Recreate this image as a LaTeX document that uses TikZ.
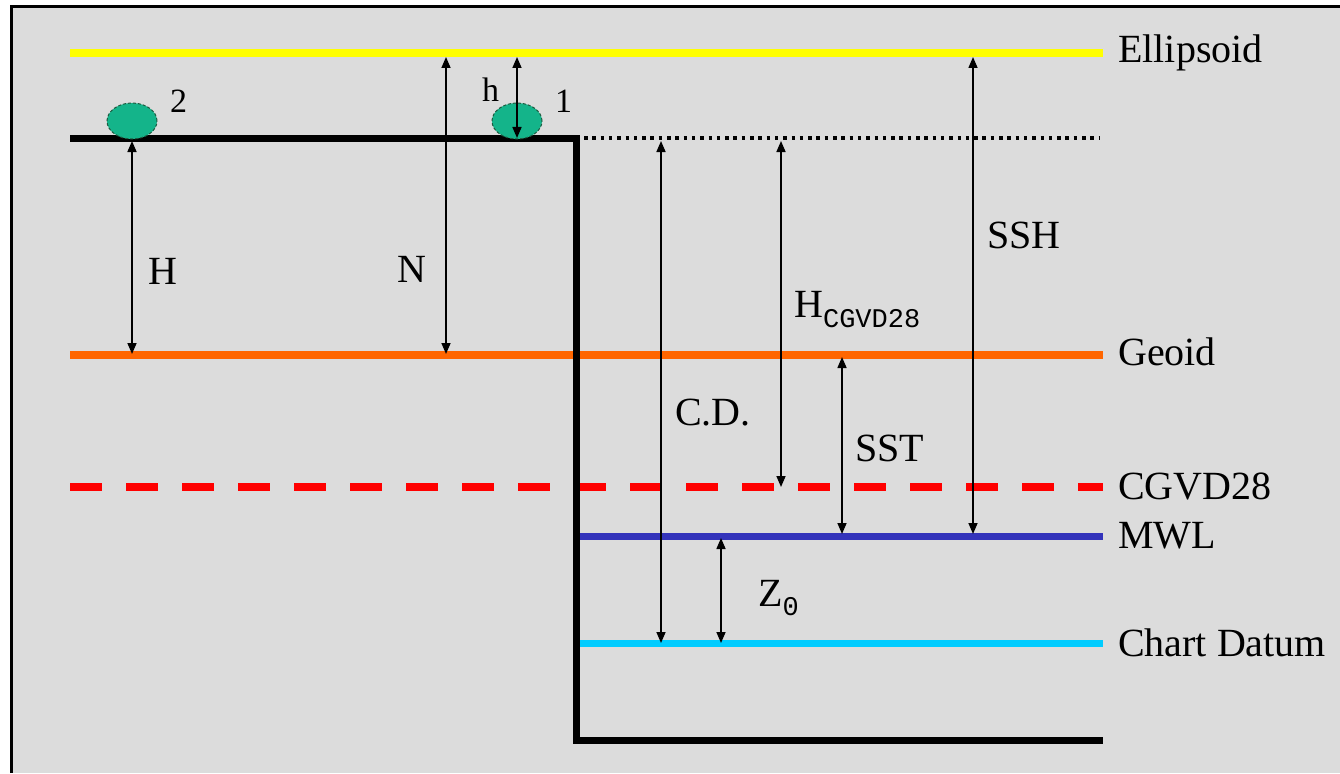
\documentclass[tikz,border=0pt]{standalone}
\usepackage{fontspec}
\setmainfont{Liberation Serif}
\newfontfamily\subfont{Liberation Mono}
\usetikzlibrary{arrows.meta,shapes.geometric}
\definecolor{bgray}{HTML}{DCDCDC}
\definecolor{ellyel}{HTML}{FFFF00}
\definecolor{geoorg}{HTML}{FF6600}
\definecolor{cgvred}{HTML}{FF0000}
\definecolor{mwlblue}{HTML}{3333BB}
\definecolor{cdcyan}{HTML}{00CCFF}
\definecolor{rockgreen}{HTML}{14B48A}
\definecolor{rimgreen}{HTML}{1E5A40}
\begin{document}
\begin{tikzpicture}[x=1pt,y=-1pt,
  lab/.style={font=\fontsize{40}{44}\selectfont, inner sep=0pt, anchor=base west},
  small/.style={font=\fontsize{34}{38}\selectfont, inner sep=0pt, anchor=base west},
  level/.style={line width=8pt},
  dim/.style={line width=1.6pt, {Triangle[length=11pt,width=9pt]}-{Triangle[length=11pt,width=9pt]}},
  stone/.style={ellipse, draw=rimgreen, dash pattern=on 3pt off 2pt, line width=1pt, fill=rockgreen, minimum width=50pt, minimum height=36pt, inner sep=0pt}]
\useasboundingbox (0,0) rectangle (1340,773);
\fill[white] (0,0) rectangle (1340,773);
\fill[bgray] (11,6) rectangle (1340,773);
\draw[line width=3pt] (11.5,773) -- (11.5,6.5) -- (1340,6.5);

% levels
\draw[level, ellyel] (70,53) -- (1103,53);
\draw[level, geoorg] (70,355) -- (1103,355);
\draw[level, cgvred, dash pattern=on 32pt off 24pt] (70,487) -- (1103,487);
\draw[line width=7pt, mwlblue] (580,536) -- (1103,536);
\draw[line width=7pt, cdcyan] (580,643) -- (1103,643);
\draw[line width=3.5pt, dash pattern=on 3.5pt off 4.8pt] (584,138) -- (1100,138);

% ground profile
\draw[line width=7pt, line join=miter] (70,138) -- (576,138) -- (576,740) -- (1103,740);

% stones
\node[stone] (stone2) at (132,121) {};
\node[stone] (stone1) at (517,121) {};

% arrow end points
\coordinate (Htop) at (132,141);
\coordinate (Hbot) at (132,354);
\coordinate (Ntop) at (446,57);
\coordinate (Nbot) at (446,354);
\coordinate (htop) at (517,57);
\coordinate (hbot) at (517,138);
\coordinate (CDtop) at (661,141);
\coordinate (CDbot) at (661,643);
\coordinate (HCtop) at (781,141);
\coordinate (HCbot) at (781,487);
\coordinate (SSTtop) at (842,357);
\coordinate (SSTbot) at (842,534);
\coordinate (SSHtop) at (973,57);
\coordinate (SSHbot) at (973,534);
\coordinate (Ztop) at (721,538);
\coordinate (Zbot) at (721,643);

\draw[dim] (Htop) -- (Hbot);
\draw[dim] (Ntop) -- (Nbot);
\draw[dim] (htop) -- (hbot);
\draw[dim] (CDtop) -- (CDbot);
\draw[dim] (HCtop) -- (HCbot);
\draw[dim] (SSTtop) -- (SSTbot);
\draw[dim] (SSHtop) -- (SSHbot);
\draw[dim] (Ztop) -- (Zbot);

% labels of levels
\node[lab] (lEll) at (1118,63) {Ellipsoid};
\node[lab] (lGeo) at (1118,365) {Geoid};
\node[lab] (lCGV) at (1118,499) {CGVD28};
\node[lab] (lMWL) at (1118,548) {MWL};
\node[lab] (lCD) at (1118,656) {Chart Datum};

% quantity labels
\node[lab] (tH) at (148,284) {H};
\node[lab] (tN) at (397,282) {N};
\node[small] (th) at (482,102) {h};
\node[small] (t1) at (555,113) {1};
\node[small] (t2) at (170,113) {2};
\node[lab] (tSSH) at (987,248) {SSH};
\node[lab] (tCD) at (675,425) {C.D.};
\node[lab] (tSST) at (855,461) {SST};
\node[lab] (tHC) at (794,317) {H\raisebox{-10pt}{\subfont\fontsize{27}{30}\selectfont CGVD28}};
\node[lab] (tZ) at (758,606) {Z\raisebox{-9pt}{\subfont\fontsize{27}{30}\selectfont 0}};
\end{tikzpicture}
\end{document}
